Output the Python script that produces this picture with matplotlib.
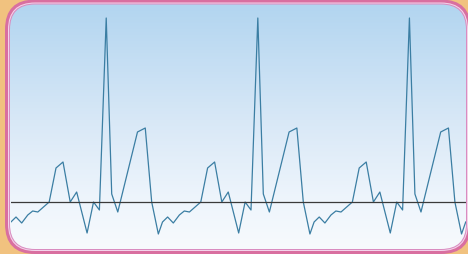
import numpy as np
import matplotlib
matplotlib.use("Agg")
import matplotlib.pyplot as plt
from matplotlib.patches import FancyBboxPatch
from matplotlib.colors import LinearSegmentedColormap

# ECG-like trace: time (s) and amplitude (mV), three beats
time_s = [
    0.022, 0.049, 0.079, 0.111, 0.137, 0.164, 0.224, 0.260, 0.297, 0.335,
    0.369, 0.424, 0.458, 0.489, 0.525, 0.554, 0.586, 0.690, 0.731, 0.765,
    0.800, 0.822, 0.849, 0.879, 0.911, 0.937, 0.964, 1.024, 1.060, 1.097,
    1.135, 1.169, 1.224, 1.258, 1.289, 1.325, 1.354, 1.386, 1.490, 1.531,
    1.565,
    1.600, 1.622, 1.649, 1.679, 1.711, 1.737, 1.764, 1.824, 1.860, 1.897,
    1.935, 1.969, 2.024, 2.058, 2.089, 2.125, 2.154, 2.186, 2.290, 2.331,
    2.365,
    2.400, 2.422,
]
amplitude_mv = [
    -0.20, -0.15, -0.21, -0.13, -0.09, -0.10, 0.00, 0.34, 0.40, 0.00,
    0.10, -0.31, 0.00, -0.08, 1.84, 0.08, -0.10, 0.70, 0.74, 0.00,
    -0.32, -0.20, -0.15, -0.21, -0.13, -0.09, -0.10, 0.00, 0.34, 0.40,
    0.00, 0.10, -0.31, 0.00, -0.08, 1.84, 0.08, -0.10, 0.70, 0.74,
    0.00,
    -0.32, -0.20, -0.15, -0.21, -0.13, -0.09, -0.10, 0.00, 0.34, 0.40,
    0.00, 0.10, -0.31, 0.00, -0.08, 1.84, 0.08, -0.10, 0.70, 0.74,
    0.00,
    -0.32, -0.20,
]

W, H = 468, 254
fig = plt.figure(figsize=(W / 100, H / 100), dpi=100)
fig.patch.set_facecolor('#f1c27f')

# decorative frame drawn in pixel space
bg = fig.add_axes([0, 0, 1, 1])
bg.set_xlim(0, W)
bg.set_ylim(H, 0)
bg.axis('off')

def rounded(x0, y0, x1, y1, r, color):
    p = FancyBboxPatch((x0, y0), x1 - x0, y1 - y0,
                       boxstyle=f"round,pad=0,rounding_size={r}",
                       facecolor=color, edgecolor='none')
    bg.add_patch(p)
    return p

rounded(5, -0.5, 471, 254, 30, '#d96fa0')
rounded(8, 2.5, 468, 251, 27, '#f4d3ea')
rounded(9, 3.5, 467, 250, 26, '#d98cc0')
inner = rounded(10, 4.5, 466, 249, 25, 'none')

cmap = LinearSegmentedColormap.from_list(
    'sky', [(0, '#b2d5f0'), (0.5, '#dae9f7'), (0.8, '#eef5fc'), (1, '#f7fafd')])
grad = np.linspace(0, 1, 256).reshape(-1, 1)
img = bg.imshow(grad, extent=[10, 466, 249, 4.5], origin='upper',
                aspect='auto', cmap=cmap, interpolation='bilinear', zorder=5)
img.set_clip_path(inner)

# chart
ax = fig.add_axes([10.9 / W, 5 / H, 454.8 / W, 244 / H])
ax.patch.set_alpha(0)
ax.plot(time_s, amplitude_mv, color='#3b7ea3', lw=0.9)
ax.axhline(0, color='#3a3a3a', lw=0.9)
ax.set_xlim(time_s[0], time_s[-1])
ax.set_ylim(-0.47, 1.97)
ax.axis('off')

fig.savefig('out.png', dpi=100, facecolor=fig.get_facecolor())
